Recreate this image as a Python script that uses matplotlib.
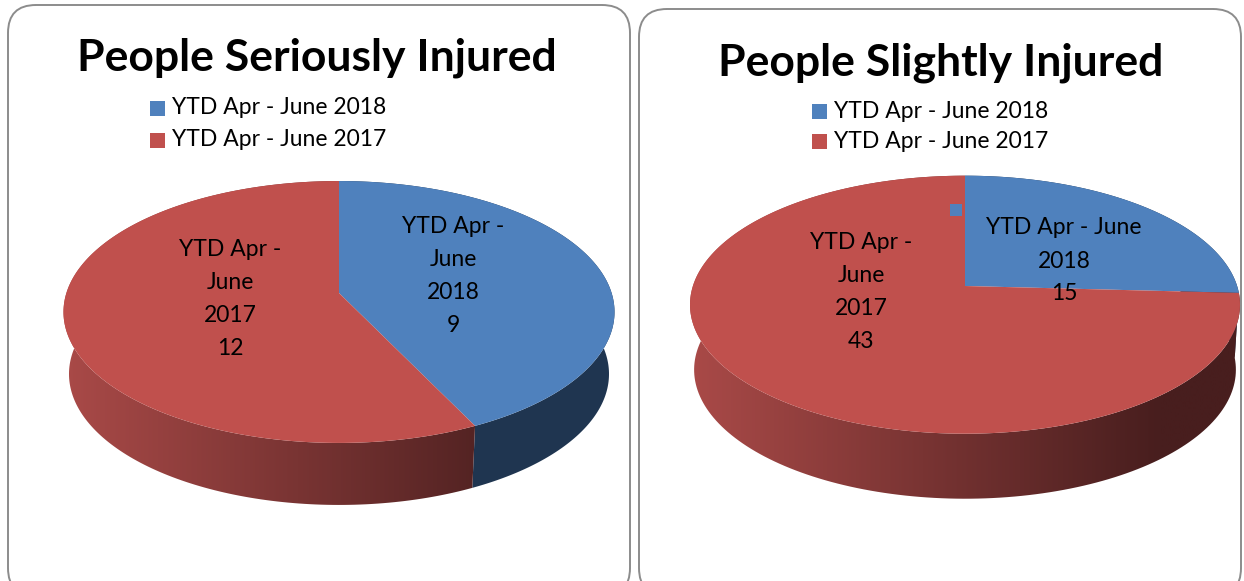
import numpy as np
import matplotlib.pyplot as plt
from matplotlib.patches import Polygon, FancyBboxPatch, Rectangle

# Data
titles = ['People Seriously Injured', 'People Slightly Injured']
series = ['YTD Apr - June 2018', 'YTD Apr - June 2017']
seriously = [9, 12]
slightly = [15, 43]

top_colors = ['#4f81bd', '#c0504d']
side_blue = '#1f3550'
red_light = np.array([170, 74, 72]) / 255
red_dark = np.array([72, 30, 30]) / 255

plt.rcParams['font.family'] = ['Lato', 'DejaVu Sans']

fig = plt.figure(figsize=(12.44, 5.81), dpi=100)
ax = fig.add_axes([0, 0, 1, 1])
ax.set_xlim(0, 1244)
ax.set_ylim(581, 0)
ax.axis('off')


def project(p, t, bottom=False):
    # t measured clockwise from 12 o'clock, simple perspective tilt
    u, v = np.sin(t), np.cos(t)
    w = 1 + p['k'] * v
    x = p['cx'] + p['A'] * u / w
    y = p['cy'] - p['B'] * v / w
    if bottom:
        x = p['cx'] + (x - p['cx']) * p['s']
        y = y + p['D']
    return x, y


def draw_pie(p, values, labels, label_pos):
    fracs = np.array(values, dtype=float) / sum(values)
    edges = np.concatenate([[0], np.cumsum(fracs)]) * 2 * np.pi
    xmin, xmax = p['cx'] - p['A'] * 1.02, p['cx'] + p['A'] * 1.02

    # sides first
    for i in range(len(values)):
        t = np.linspace(edges[i], edges[i + 1], 200)
        xt, yt = project(p, t)
        xb, yb = project(p, t, bottom=True)
        pts = np.column_stack([np.r_[xt, xb[::-1]], np.r_[yt, yb[::-1]]])
        if i == 0:
            ax.add_patch(Polygon(pts, closed=True, fc=side_blue, ec='none'))
        else:
            poly = Polygon(pts, closed=True, fc='none', ec='none')
            ax.add_patch(poly)
            g = np.linspace(0, 1, 300)
            g = np.clip(g / 0.85, 0, 1)
            grad = red_light[None, :] * (1 - g[:, None]) + red_dark[None, :] * g[:, None]
            im = ax.imshow(grad[None, :, :], extent=(xmin, xmax, 560, 150),
                           aspect='auto', interpolation='bilinear', zorder=1)
            im.set_clip_path(poly)

    # top faces
    for i in range(len(values)):
        t = np.linspace(edges[i], edges[i + 1], 200)
        xt, yt = project(p, t)
        pts = np.column_stack([np.r_[p['cx'], xt], np.r_[p['cy'], yt]])
        ax.add_patch(Polygon(pts, closed=True, fc=top_colors[i], ec='none', zorder=2))

    # data labels
    for i in range(len(values)):
        lines = labels[i] + [str(values[i])]
        lx, ly = label_pos[i]
        y0 = ly - (len(lines) - 1) * 33 / 2
        for j, s in enumerate(lines):
            ax.text(lx, y0 + j * 33, s, ha='center', va='center', fontsize=16.5,
                    color='black', zorder=5)


def draw_panel(x0, y0, x1, y1):
    ax.add_patch(FancyBboxPatch((x0, y0), x1 - x0, y1 - y0,
                                boxstyle='round,pad=0,rounding_size=28',
                                fc='white', ec='#8c8c8c', lw=1.4, zorder=0))


def draw_legend(x, ys):
    for c, s, y in zip(top_colors, series, ys):
        ax.add_patch(Rectangle((x, y - 7.5), 15, 15, fc=c, ec='none'))
        ax.text(x + 22, y, s, ha='left', va='center', fontsize=16.5)


left = dict(cx=339, cy=293, A=272.6, B=128.2, k=0.145, D=62, s=0.98)
right = dict(cx=965, cy=286, A=272.1, B=126.3, k=0.145, D=65, s=0.985)

draw_panel(8, 5, 630, 596)
draw_panel(639, 9, 1241, 596)

ax.text(317, 58, titles[0], ha='center', va='center', fontsize=32, fontweight='bold')
ax.text(941, 63, titles[1], ha='center', va='center', fontsize=32, fontweight='bold')

draw_legend(150, [108, 140])
draw_legend(812, [111, 141])

draw_pie(left, seriously,
         [['YTD Apr -', 'June', '2018'], ['YTD Apr -', 'June', '2017']],
         [(453, 276), (230, 299)])
draw_pie(right, slightly,
         [['YTD Apr - June', '2018'], ['YTD Apr -', 'June', '2017']],
         [(1064, 261), (861, 292)])

# legend key shown inside the 2018 data label of the second chart
ax.add_patch(Rectangle((950, 204), 12, 12, fc=top_colors[0], ec='none', zorder=4))

plt.savefig('out.png', dpi=100)
plt.close(fig)
